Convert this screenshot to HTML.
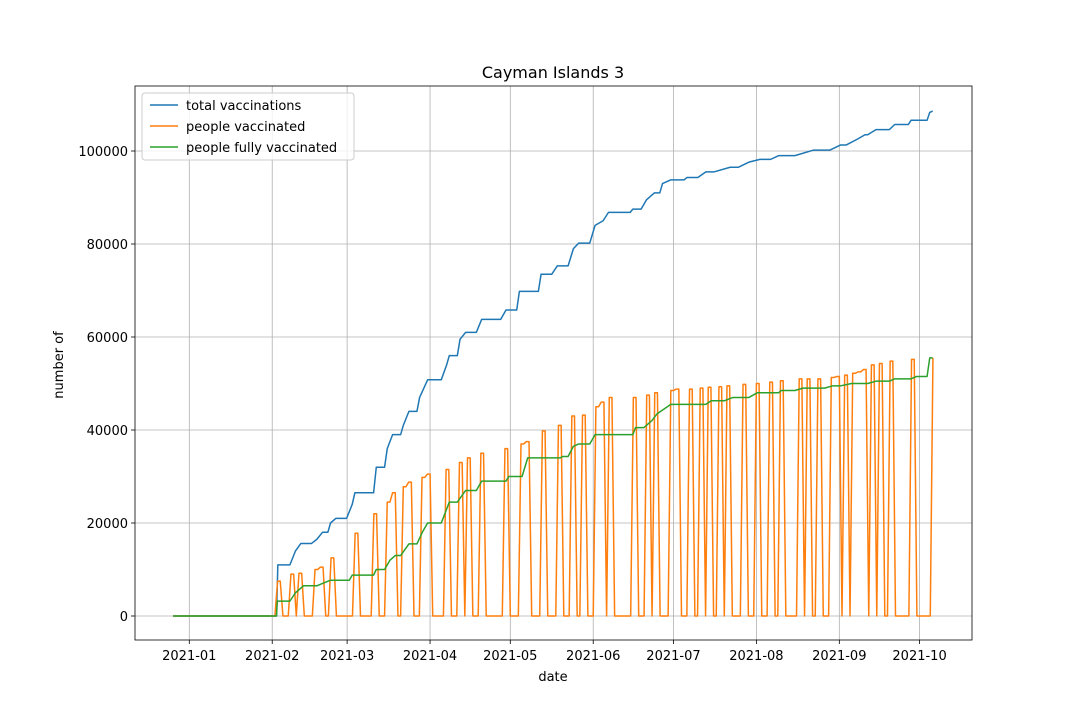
<!DOCTYPE html>
<html><head><meta charset="utf-8"><style>
body{margin:0;background:#fff;font-family:"Liberation Sans",sans-serif}
svg text{font-family:"DejaVu Sans","Liberation Sans",sans-serif;font-size:13px;fill:#000}
</style></head><body>
<svg id="chart" width="1080" height="720">
<rect width="1080" height="720" fill="#fff"/>
<g id="grid"></g><g id="series"></g><g id="axes"></g>
</svg>
<script>
// days since 2021-01-01
const totalDays=[-6.1,32.6,33.1,37.6,39.7,41.7,45.7,47.7,49.8,51.8,52.8,54.8,58.8,60.9,61.9,68.9,69.9,73,74,76,79,80,82.1,85.1,86.1,89.1,94.2,96.2,97.2,100.2,101.2,103.3,107.3,109.3,116.4,118.4,122.4,123.4,130.5,131.5,135.5,137.6,141.6,143.6,145.6,149.7,151.7,154.7,156.7,164.8,165.8,168.9,170.9,173.9,175.9,176.9,180,185,186,190.1,193.1,196.1,202.2,205.2,209.2,213.3,217.3,220.3,226.4,233.4,239.5,243.5,245.6,249.6,252.6,253.6,256.7,261.7,263.7,268.8,269.8,275.8,276.8,277.9];
const totalVals=[0,0,11000,11000,14000,15600,15600,16500,18000,18000,20000,21000,21000,24000,26500,26500,32000,32000,36000,39000,39000,41000,44000,44000,47000,50800,50800,54000,56000,56000,59500,61000,61000,63800,63800,65800,65800,69800,69800,73500,73500,75300,75300,79000,80200,80200,84000,85000,86800,86800,87500,87500,89500,91000,91000,93000,93800,93800,94300,94300,95500,95500,96500,96500,97600,98200,98200,99000,99000,100200,100200,101300,101300,102500,103500,103500,104600,104600,105700,105700,106600,106600,108300,108600];
const fullyDays=[-6.1,32.6,32.9,37.6,39.7,42.7,47.7,49.8,52.8,59.8,60.9,68.9,69.9,73,75,77,79,82.1,85.1,87.1,89.1,94.2,97.2,100.2,103.3,107.3,109.3,118.4,119.4,124.4,126.5,138.6,139.6,141.6,143.6,145.6,149.7,151.7,165.8,166.8,169.9,172.9,174.9,180,193.1,195.1,200.1,203.2,209.2,212.3,220.3,221.3,226.4,229.4,237.5,240.5,243.5,247.6,253.6,256.7,261.7,263.7,269.8,271.8,275.8,276.8,277.9];
const fullyVals=[0,0,3200,3200,5000,6500,6500,7000,7700,7700,8800,8800,10000,10000,12000,13000,13000,15500,15500,18000,20000,20000,24500,24500,27000,27000,29000,29000,30000,30000,34000,34000,34300,34300,36500,37000,37000,39000,39000,40500,40500,42000,43500,45500,45500,46300,46300,47000,47000,48000,48000,48500,48500,49000,49000,49500,49500,50000,50000,50500,50500,51000,51000,51500,51500,55500,55500];
const spikeDays=[33,38,41,47,49,53,62,69,74,76,80,82,87,89,96,101,104,109,118,124,126,132,138,143,147,152,154,157,166,171,174,180,182,187,191,194,198,201,207,212,217,221,228,231,235,240,242,245,248,250,252,255,258,262,270,278];
const spikeVals=[7500,9000,9200,10000,10500,12500,17800,22000,24500,26500,27800,28800,29800,30500,31500,33000,34000,35000,36000,37000,37500,39800,41000,43000,43200,45000,46000,47000,47000,47500,48000,48500,48800,48800,49000,49200,49300,49500,49800,50000,50300,50600,51000,51000,51000,51300,51500,51800,52200,52500,53000,54000,54300,54800,55200,55500];
const yTicks=[0,20000,40000,60000,80000,100000];
const xTickLabels=["2021-01","2021-02","2021-03","2021-04","2021-05","2021-06","2021-07","2021-08","2021-09","2021-10"];
const xTickDays=[0,31,59,90,120,151,181,212,243,273];

const L=135,R=972,T=86,B=640;
const xs=d=>189.3+d*2.675;
const ys=v=>616-v*0.00465;
const NS="http://www.w3.org/2000/svg";
function mk(tag,attrs,parent){const e=document.createElementNS(NS,tag);for(const k in attrs)e.setAttribute(k,attrs[k]);parent.appendChild(e);return e;}
const grid=document.getElementById('grid'),ser=document.getElementById('series'),ax=document.getElementById('axes');
xTickDays.forEach((d,i)=>{
  const x=xs(d);
  const g=mk('line',{x1:x,x2:x,y1:T,y2:B,stroke:'#b0b0b0','stroke-width':0.8},grid);
  
  
  mk('line',{x1:x,x2:x,y1:B,y2:B+4,stroke:'#000','stroke-width':0.8},ax);
  const t=mk('text',{x:x,y:B+20,'text-anchor':'middle'},ax);t.textContent=xTickLabels[i];
  
  
});
yTicks.forEach(v=>{
  const y=ys(v);
  const g=mk('line',{x1:L,x2:R,y1:y,y2:y,stroke:'#b0b0b0','stroke-width':0.8},grid);
  
  
  mk('line',{x1:L-4,x2:L,y1:y,y2:y,stroke:'#000','stroke-width':0.8},ax);
  const t=mk('text',{x:L-7,y:y+5,'text-anchor':'end'},ax);t.textContent=String(v);
  
  
});
function poly(days,vals,color,name){
  const p=mk('polyline',{points:days.map((d,i)=>xs(d)+','+ys(vals[i])).join(' '),fill:'none',stroke:color,'stroke-width':1.5,'stroke-linejoin':'round'},ser);
  
  
}
poly(totalDays,totalVals,'#1f77b4','total-vaccinations-line');
const pd=[],pv=[];
const lastSpike=spikeDays[spikeDays.length-1];
for(let d=-6;d<=278;d++){
  let v=0;
  spikeDays.forEach((s,i)=>{if(d===s||(d===s+1&&s<lastSpike))v=spikeVals[i];});
  pd.push(d);pv.push(v);
}
poly(pd,pv,'#ff7f0e','people-vaccinated-line');
poly(fullyDays,fullyVals,'#2ca02c','people-fully-vaccinated-line');
const fr=mk('rect',{x:L,y:T,width:R-L,height:B-T,fill:'none',stroke:'#000','stroke-width':0.8},ax);


</script>
<svg style="position:absolute;left:0;top:0" width="1080" height="720">
<text x="553" y="78" text-anchor="middle" style="font-size:16px">Cayman Islands 3</text>
<text x="553" y="681" text-anchor="middle">date</text>
<text x="63" y="365" text-anchor="middle" transform="rotate(-90 63 365)">number of</text>
<g>
<rect x="142" y="93" width="212" height="67" rx="3" fill="#fff" fill-opacity="0.8" stroke="#ccc"/>
<g><line x1="150" x2="178" y1="105" y2="105" stroke="#1f77b4" stroke-width="1.5"/><text x="186" y="110">total vaccinations</text></g>
<g><line x1="150" x2="178" y1="126" y2="126" stroke="#ff7f0e" stroke-width="1.5"/><text x="186" y="131">people vaccinated</text></g>
<g><line x1="150" x2="178" y1="147" y2="147" stroke="#2ca02c" stroke-width="1.5"/><text x="186" y="152">people fully vaccinated</text></g>
</g>
</svg>
</body></html>
